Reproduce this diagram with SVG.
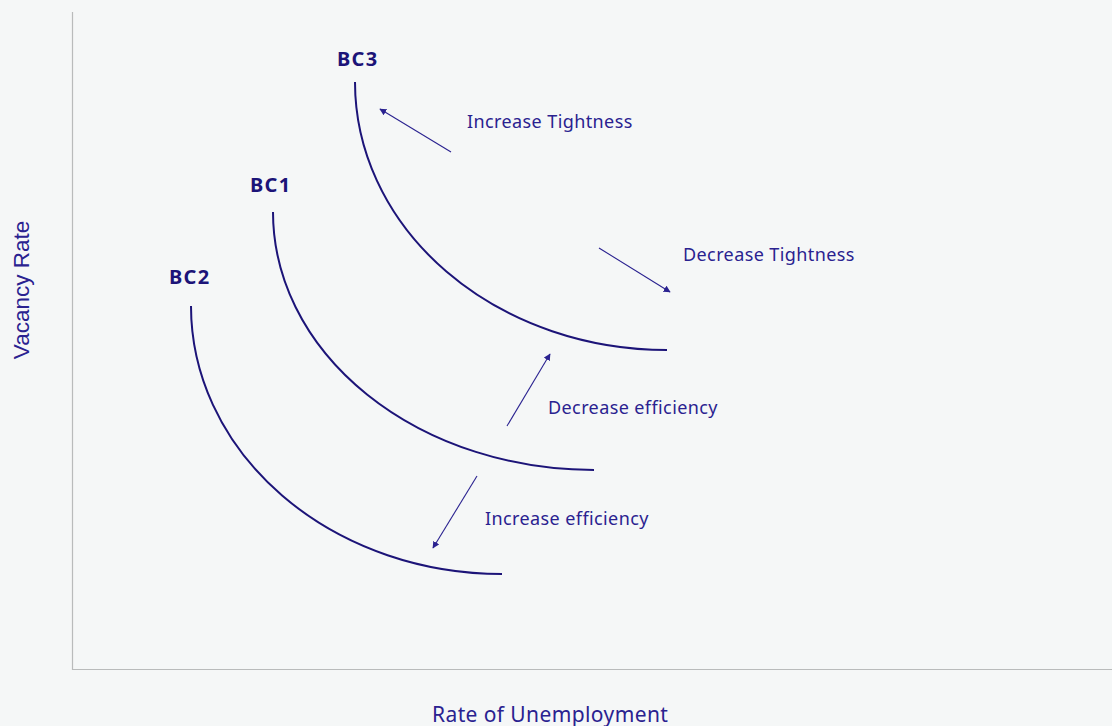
<svg xmlns="http://www.w3.org/2000/svg" width="1112" height="726" viewBox="0 0 1112 726">
<defs>
<style>
.curve{fill:none;stroke:#1c1478;stroke-width:2}
.axis{fill:none;stroke:#b9bbbb;stroke-width:1.2}
.arr{fill:none;stroke:#2a2290;stroke-width:1.1;marker-end:url(#ah)}
.lbl{font-family:"Noto Sans","Liberation Sans",sans-serif;font-size:18px;fill:#2a2290;letter-spacing:0.4px}
.bc{font-family:"Noto Sans","Liberation Sans",sans-serif;font-size:20px;font-weight:bold;fill:#1c1478;letter-spacing:1.3px}
.ax{font-family:"Liberation Sans",Arial,sans-serif;font-size:22.5px;fill:#2a2290}
.axb{font-family:"Noto Sans","Liberation Sans",sans-serif;font-size:21px;fill:#2a2290;letter-spacing:0.4px}
</style>
<marker id="ah" viewBox="0 0 10 10" refX="9" refY="5" markerWidth="7" markerHeight="7" markerUnits="userSpaceOnUse" orient="auto">
<path d="M0,0 L10,5 L0,10 z" fill="#2a2290"/>
</marker>
</defs>
<rect width="1112" height="726" fill="#f5f7f7"/>
<g id="axes">
<path class="axis" d="M72.5,12 V669.5 H1112"/>
<text class="ax" transform="translate(29,290) rotate(-90)" text-anchor="middle">Vacancy Rate</text>
<text class="axb" x="432" y="722">Rate of Unemployment</text>
</g>
<g id="bc3">
<path class="curve" d="M355,82 A312,268 0 0 0 667,350"/>
<text class="bc" x="337" y="66">BC3</text>
</g>
<g id="bc1">
<path class="curve" d="M273,212 A321,258 0 0 0 594,470"/>
<text class="bc" x="250" y="192">BC1</text>
</g>
<g id="bc2">
<path class="curve" d="M191,306 A311,268 0 0 0 502,574"/>
<text class="bc" x="169" y="284">BC2</text>
</g>
<g id="connectors">
<line class="arr" x1="451" y1="152" x2="380" y2="109"/>
<line class="arr" x1="599" y1="248" x2="670" y2="292"/>
<line class="arr" x1="507" y1="426" x2="550" y2="354"/>
<line class="arr" x1="477" y1="476" x2="433" y2="548"/>
</g>
<g id="labels">
<text class="lbl" x="467" y="128">Increase Tightness</text>
<text class="lbl" x="683" y="261">Decrease Tightness</text>
<text class="lbl" x="548" y="414">Decrease efficiency</text>
<text class="lbl" x="485" y="525">Increase efficiency</text>
</g>
</svg>
